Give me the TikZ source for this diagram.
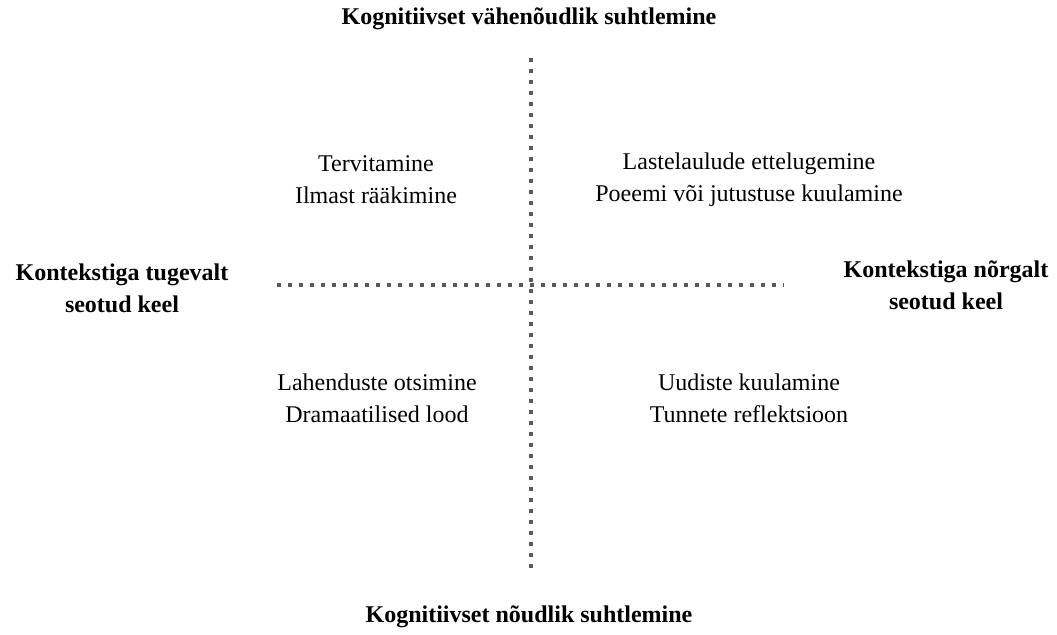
\documentclass[tikz,border=0pt]{standalone}
\usepackage{fontspec}
\setmainfont{Liberation Serif}
\definecolor{dotgray}{HTML}{5A5A5A}
\begin{document}
\begin{tikzpicture}[x=0.5pt,y=-0.5pt,
  axis/.style={draw=dotgray,line width=2.1pt,dash pattern=on 2.1pt off 3.4pt},
  lbl/.style={font=\fontsize{12}{16}\selectfont,align=center,inner sep=0pt},
  ttl/.style={font=\fontsize{12}{16}\selectfont\bfseries,align=center,inner sep=0pt}]
\useasboundingbox (0,0) rectangle (1057,635);
\coordinate (vt) at (531,58);
\coordinate (vb) at (531,571);
\coordinate (hl) at (277,285);
\coordinate (hr) at (784,285);
\draw[axis] (vt) -- (vb);
\draw[axis] (hl) -- (hr);
\node[ttl] (top) at (529,19) {Kognitiivset vähenõudlik suhtlemine};
\node[ttl] (bot) at (529,617) {Kognitiivset nõudlik suhtlemine};
\node[ttl] (left) at (122,288) {Kontekstiga tugevalt\\seotud keel};
\node[ttl] (right) at (946,285) {Kontekstiga nõrgalt\\seotud keel};
\node[lbl] (q1) at (376,180) {Tervitamine\\Ilmast rääkimine};
\node[lbl] (q2) at (749,180) {Lastelaulude ettelugemine\\Poeemi või jutustuse kuulamine};
\node[lbl] (q3) at (377,398) {Lahenduste otsimine\\Dramaatilised lood};
\node[lbl] (q4) at (749,398) {Uudiste kuulamine\\Tunnete reflektsioon};
\end{tikzpicture}
\end{document}
